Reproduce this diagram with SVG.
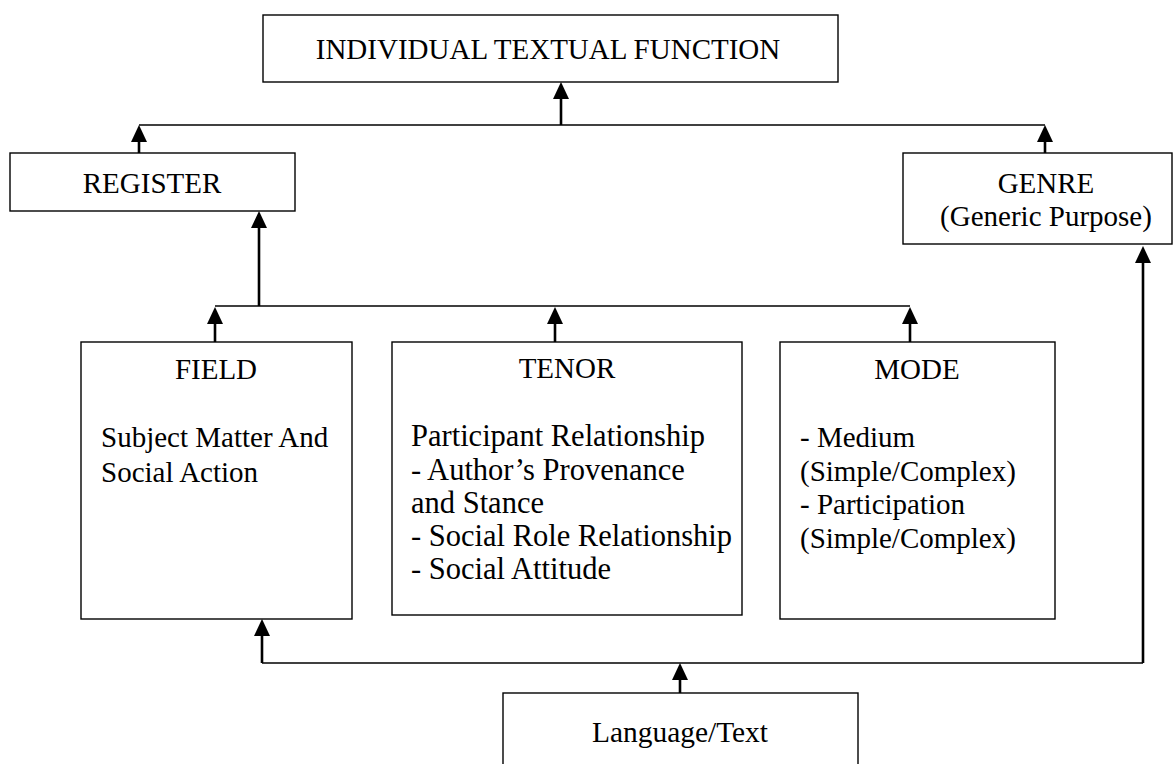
<svg xmlns="http://www.w3.org/2000/svg" width="1174" height="764" viewBox="0 0 1174 764">
  <style>
    .box { fill: #ffffff; stroke: #000000; stroke-width: 1.4; }
    .t { font-family: "Liberation Serif", "Times New Roman", serif; font-size: 29px; fill: #000000; }
    .big { font-size: 30.5px; }
    .c { text-anchor: middle; }
    .line { fill: none; stroke: #000000; stroke-width: 1.6; }
    .shaft { fill: none; stroke: #000000; stroke-width: 2.6; }
  </style>
  <rect width="1174" height="764" fill="#ffffff"/>

  <g id="connectors">
    <line class="line" x1="139" y1="125" x2="1045" y2="125"/>
    <line class="line" x1="215" y1="306" x2="910" y2="306"/>
    <line class="line" x1="262" y1="663" x2="1143" y2="663"/>
    <path class="shaft" d="M561,125 L561,97"/>
    <polygon points="561,82 553,99 569,99"/>
    <path class="shaft" d="M139,153 L139,140"/>
    <polygon points="139,125 131,142 147,142"/>
    <path class="shaft" d="M1045,153 L1045,140"/>
    <polygon points="1045,125 1037,142 1053,142"/>
    <path class="shaft" d="M259,306 L259,226"/>
    <polygon points="259,211 251,228 267,228"/>
    <path class="shaft" d="M215,342 L215,321"/>
    <polygon points="215,307 207,324 223,324"/>
    <path class="shaft" d="M555,342 L555,321"/>
    <polygon points="555,307 547,324 563,324"/>
    <path class="shaft" d="M910,342 L910,321"/>
    <polygon points="910,307 902,324 918,324"/>
    <path class="shaft" d="M262,663 L262,634"/>
    <polygon points="262,619 254,636 270,636"/>
    <path class="shaft" d="M1143,663 L1143,261"/>
    <polygon points="1143,246 1135,263 1151,263"/>
    <path class="shaft" d="M680,693 L680,678"/>
    <polygon points="680,663 672,680 688,680"/>
  </g>

  <g id="node-itf">
    <rect class="box" x="263" y="15" width="575" height="67"/>
    <text class="t c" x="548" y="59">INDIVIDUAL TEXTUAL FUNCTION</text>
  </g>

  <g id="node-register">
    <rect class="box" x="10" y="153" width="285" height="58"/>
    <text class="t c" x="152" y="193">REGISTER</text>
  </g>

  <g id="node-genre">
    <rect class="box" x="903" y="153" width="269" height="91"/>
    <text class="t c" x="1046" y="193">GENRE</text>
    <text class="t c" x="1046" y="226">(Generic Purpose)</text>
  </g>

  <g id="node-field">
    <rect class="box" x="81" y="342" width="271" height="277"/>
    <text class="t c" x="216" y="379">FIELD</text>
    <text class="t" x="101" y="447">Subject Matter And</text>
    <text class="t" x="101" y="482">Social Action</text>
  </g>

  <g id="node-tenor">
    <rect class="box" x="392" y="342" width="350" height="273"/>
    <text class="t c" x="567" y="378">TENOR</text>
    <text class="t big" x="411" y="446">Participant Relationship</text>
    <text class="t big" x="411" y="480">- Author’s Provenance</text>
    <text class="t big" x="411" y="513">and Stance</text>
    <text class="t big" x="411" y="546">- Social Role Relationship</text>
    <text class="t big" x="411" y="579">- Social Attitude</text>
  </g>

  <g id="node-mode">
    <rect class="box" x="780" y="342" width="275" height="277"/>
    <text class="t c" x="917" y="379">MODE</text>
    <text class="t" x="800" y="447">- Medium</text>
    <text class="t" x="800" y="481">(Simple/Complex)</text>
    <text class="t" x="800" y="514">- Participation</text>
    <text class="t" x="800" y="548">(Simple/Complex)</text>
  </g>

  <g id="node-language">
    <rect class="box" x="503" y="693" width="355" height="80"/>
    <text class="t c" x="680" y="742" textLength="176" lengthAdjust="spacingAndGlyphs">Language/Text</text>
  </g>
</svg>
